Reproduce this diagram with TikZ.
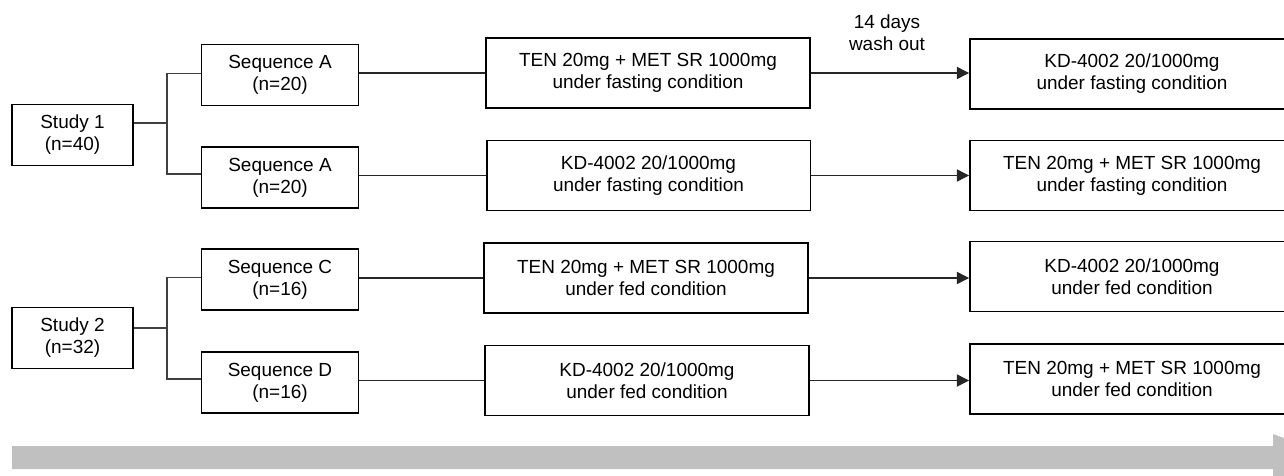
\documentclass[tikz,border=0pt]{standalone}
\usepackage{fontspec}
\setmainfont{Liberation Sans}
\usetikzlibrary{arrows.meta}

\definecolor{timegray}{HTML}{C0C0C0}

\tikzset{
    box/.style={draw, line width=1.1pt, align=center, inner sep=0pt,
        font=\fontsize{10.8}{12.5}\selectfont},
    studybox/.style={box, minimum width=2.42cm, minimum height=1.22cm},
    seqbox/.style={box, minimum width=3.14cm, minimum height=1.22cm},
    treatbox/.style={box, minimum width=6.48cm, minimum height=1.4cm},
    branch/.style={draw=black!75, line width=0.6pt},
    link/.style={draw=black!85, line width=0.6pt},
    period/.style={link, -{Triangle[length=7pt,width=7pt]}},
}

\begin{document}
\begin{tikzpicture}[x=0.02cm, y=-0.02cm]
    \useasboundingbox (0,0) rectangle (1284,476);

    % study 1
    \node[studybox] (study1) at (72.5,135) {Study 1\\(n=40)};
    \node[seqbox] (seqA1) at (280,75) {Sequence A\\(n=20)};
    \node[seqbox] (seqA2) at (280,177.5) {Sequence A\\(n=20)};
    \node[treatbox] (fast1) at (648,73) {TEN 20mg + MET SR 1000mg\\under fasting condition};
    \node[treatbox] (fast2) at (648.5,175.5) {KD-4002 20/1000mg\\under fasting condition};
    \node[treatbox] (fastB1) at (1132,74) {KD-4002 20/1000mg\\under fasting condition};
    \node[treatbox] (fastB2) at (1132,175.5) {TEN 20mg + MET SR 1000mg\\under fasting condition};

    % study 2
    \node[studybox] (study2) at (72.5,338) {Study 2\\(n=32)};
    \node[seqbox] (seqC) at (280,279.5) {Sequence C\\(n=16)};
    \node[seqbox] (seqD) at (280,382.5) {Sequence D\\(n=16)};
    \node[treatbox] (fed1) at (646,278) {TEN 20mg + MET SR 1000mg\\under fed condition};
    \node[treatbox] (fed2) at (647,380.5) {KD-4002 20/1000mg\\under fed condition};
    \node[treatbox] (fedB1) at (1132,276.5) {KD-4002 20/1000mg\\under fed condition};
    \node[treatbox] (fedB2) at (1132,379) {TEN 20mg + MET SR 1000mg\\under fed condition};

    \node[align=center, font=\fontsize{10.8}{12.5}\selectfont] (washout) at (887,33) {14 days\\wash out};

    % randomisation branches
    \coordinate (fork1) at (167,123);
    \coordinate (fork2) at (167,328);
    \draw[branch] (study1.east |- fork1) -- (fork1);
    \draw[branch] ([yshift=1pt]seqA1.west) -| (fork1) |- ([yshift=2pt]seqA2.west);
    \draw[branch] (study2.east |- fork2) -- (fork2);
    \draw[branch] ([yshift=1pt]seqC.west) -| (fork2) |- ([yshift=2pt]seqD.west);

    % sequence to first period
    \draw[link] (seqA1.east |- fast1) -- (fast1.west);
    \draw[link] ([yshift=1pt]seqA2.east) -- ([yshift=1pt]seqA2.east -| fast2.west);
    \draw[link] (seqC.east |- fed1) -- (fed1.west);
    \draw[link] ([yshift=1pt]seqD.east) -- ([yshift=1pt]seqD.east -| fed2.west);

    % first period to second period
    \draw[period] (fast1.east) -- (fast1.east -| fastB1.west);
    \draw[period] (fast2.east) -- (fast2.east -| fastB2.west);
    \draw[period] (fed1.east) -- (fed1.east -| fedB1.west);
    \draw[period] (fed2.east) -- (fed2.east -| fedB2.west);

    % time axis
    \fill[timegray] (12,446) -- (1273,446) -- (1273,434) -- (1336,457.5)
        -- (1273,481) -- (1273,469) -- (12,469) -- cycle;
\end{tikzpicture}
\end{document}
